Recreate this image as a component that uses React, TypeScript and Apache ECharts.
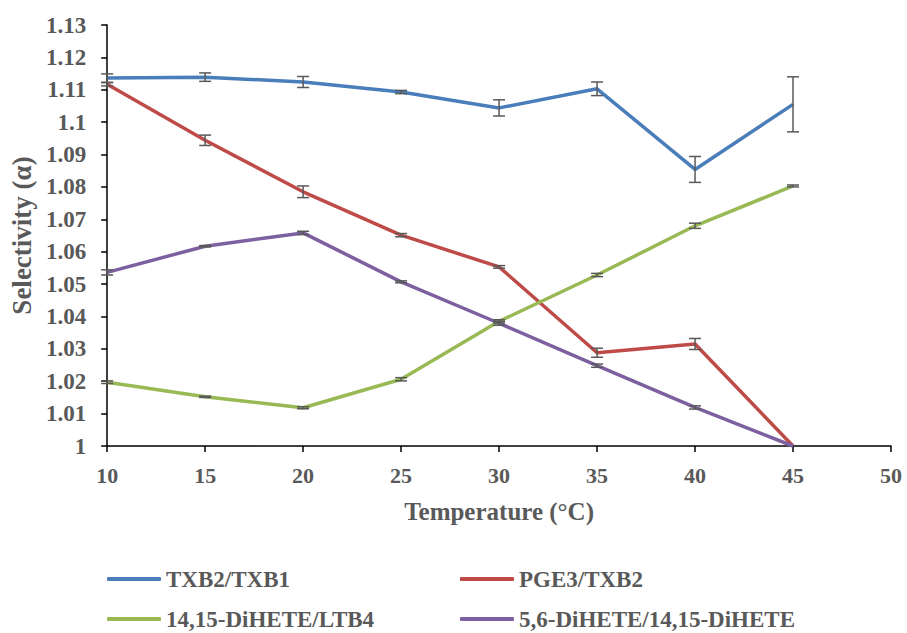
import React, { useEffect, useRef } from "react";
import * as echarts from "echarts";

const temperatures = [10, 15, 20, 25, 30, 35, 40, 45];
const seriesNames = ["TXB2/TXB1", "PGE3/TXB2", "14,15-DiHETE/LTB4", "5,6-DiHETE/14,15-DiHETE"];
const txb2Txb1 = [1.1136, 1.1139, 1.1124, 1.1093, 1.1044, 1.1103, 1.0854, 1.1055];
const txb2Txb1Err = [0.0013, 0.0013, 0.0017, 0.0005, 0.0025, 0.0021, 0.004, 0.0085];
const pge3Txb2 = [1.1117, 1.0944, 1.0785, 1.0651, 1.0553, 1.0288, 1.0315, 1.0];
const pge3Txb2Err = [0.0005, 0.0016, 0.0018, 0.0005, 0.0004, 0.0014, 0.0017, 0];
const dihete1415Ltb4 = [1.0197, 1.0152, 1.0118, 1.0206, 1.0385, 1.0528, 1.068, 1.0803];
const dihete1415Ltb4Err = [0.0004, 0.0002, 0.0003, 0.0005, 0.0005, 0.0005, 0.0008, 0.0003];
const dihete56Dihete1415 = [1.0536, 1.0617, 1.0658, 1.0507, 1.0379, 1.0248, 1.0119, 1.0];
const dihete56Dihete1415Err = [0.0008, 0.0002, 0.0005, 0.0003, 0.0006, 0.0005, 0.0005, 0];
const colors = ["#4A7EBB", "#BE4B48", "#98B954", "#7D60A0"];

const FONT = "Liberation Serif";
const TEXT = "#595959";

export default function App() {
  const ref = useRef<HTMLDivElement>(null);
  useEffect(() => {
    if (!ref.current) return;
    const chart = echarts.init(ref.current, undefined, { renderer: "svg" });
    const values = [txb2Txb1, pge3Txb2, dihete1415Ltb4, dihete56Dihete1415];
    const errs = [txb2Txb1Err, pge3Txb2Err, dihete1415Ltb4Err, dihete56Dihete1415Err];

    const lineSeries = values.map((vals, i) => ({
      name: seriesNames[i],
      type: "line",
      data: temperatures.map((t, j) => [t, vals[j]]),
      symbol: "none",
      lineStyle: { color: colors[i], width: 3.5 },
      itemStyle: { color: colors[i] },
      z: 2,
    }));

    const errSeries = values.map((vals, i) => ({
      name: seriesNames[i] + " err",
      type: "custom",
      data: temperatures
        .map((t, j) => [t, vals[j] - errs[i][j], vals[j] + errs[i][j], errs[i][j]])
        .filter((d) => d[3] > 0),
      encode: { x: 0, y: [1, 2] },
      z: 3,
      silent: true,
      renderItem: (params: any, api: any) => {
        const x = api.value(0);
        const lo = api.coord([x, api.value(1)]);
        const hi = api.coord([x, api.value(2)]);
        const hw = 6;
        const style = { stroke: "#595959", lineWidth: 1.5 };
        return {
          type: "group",
          children: [
            { type: "line", shape: { x1: hi[0], y1: hi[1], x2: lo[0], y2: lo[1] }, style },
            { type: "line", shape: { x1: hi[0] - hw, y1: hi[1], x2: hi[0] + hw, y2: hi[1] }, style },
            { type: "line", shape: { x1: lo[0] - hw, y1: lo[1], x2: lo[0] + hw, y2: lo[1] }, style },
          ],
        };
      },
    }));

    const legendPos = [
      { left: 107, top: 567 },
      { left: 460, top: 567 },
      { left: 107, top: 607 },
      { left: 460, top: 607 },
    ];

    chart.setOption({
      animation: false,
      backgroundColor: "#ffffff",
      grid: { left: 107, right: 16, top: 25, bottom: 187, containLabel: false },
      legend: seriesNames.map((n, i) => ({
        data: [n],
        left: legendPos[i].left,
        top: legendPos[i].top,
        padding: 0,
        icon: "roundRect",
        itemWidth: 54,
        itemHeight: 4,
        selectedMode: false,
        textStyle: { fontFamily: FONT, fontWeight: "bold", fontSize: 23, lineHeight: 24, color: TEXT },
      })),
      xAxis: {
        type: "value",
        min: 10,
        max: 50,
        interval: 5,
        name: "Temperature (°C)",
        nameLocation: "middle",
        nameGap: 53,
        nameTextStyle: { fontFamily: FONT, fontWeight: "bold", fontSize: 25, color: TEXT },
        axisLine: { show: true, onZero: false, lineStyle: { color: "#000", width: 1.5 } },
        axisTick: { show: true, inside: false, length: 6, lineStyle: { color: "#000", width: 1.5 } },
        axisLabel: { margin: 18, fontFamily: FONT, fontWeight: "bold", fontSize: 22, color: TEXT },
        splitLine: { show: false },
      },
      yAxis: {
        type: "value",
        min: 1,
        max: 1.13,
        interval: 0.01,
        name: "Selectivity (α)",
        nameLocation: "middle",
        nameGap: 72,
        nameTextStyle: { fontFamily: FONT, fontWeight: "bold", fontSize: 27, color: TEXT },
        axisLine: { show: true, onZero: false, lineStyle: { color: "#000", width: 1.5 } },
        axisTick: { show: true, inside: false, length: 6, lineStyle: { color: "#000", width: 1.5 } },
        axisLabel: {
          margin: 21,
          fontFamily: FONT,
          fontWeight: "bold",
          fontSize: 23,
          color: TEXT,
          formatter: (v: number) => String(+v.toFixed(2)),
        },
        splitLine: { show: false },
      },
      series: [...lineSeries, ...errSeries],
    });
    return () => chart.dispose();
  }, []);
  return <div ref={ref} style={{ width: 907, height: 633, position: "absolute", left: 0, top: 0 }} />;
}
